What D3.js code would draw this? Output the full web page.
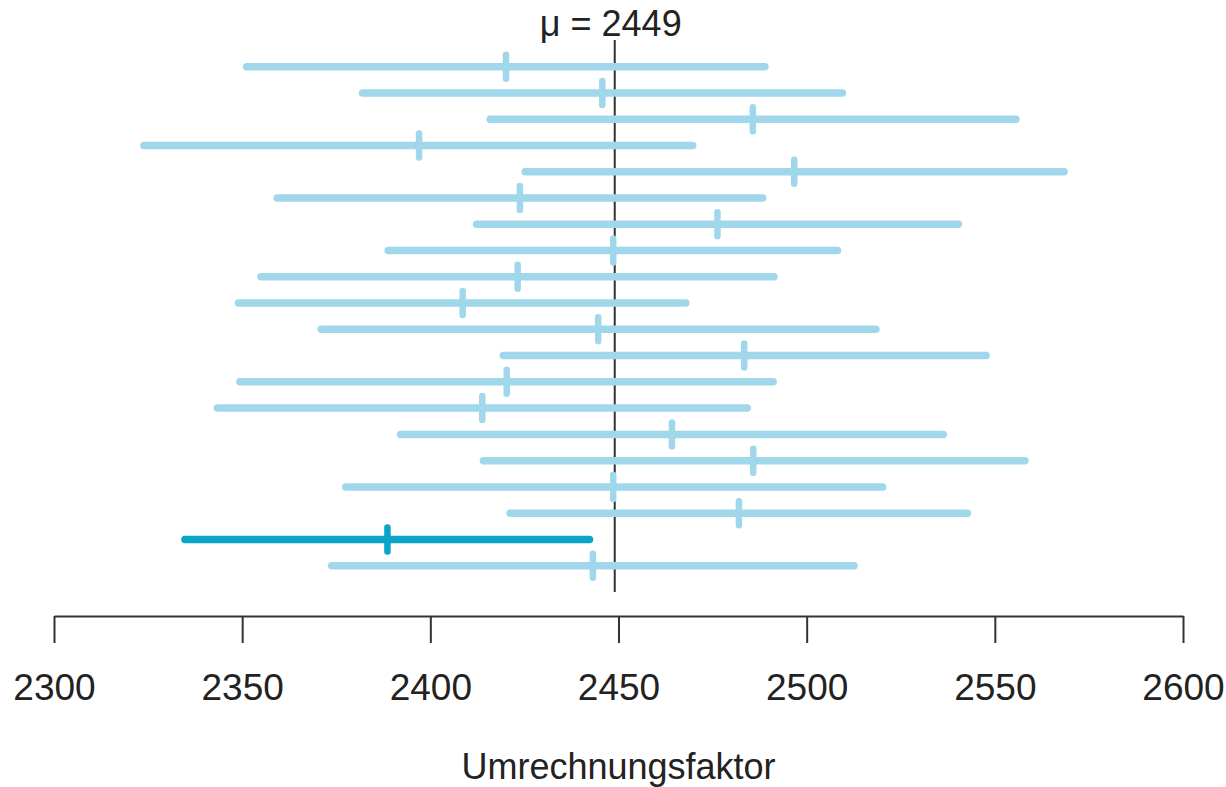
<!DOCTYPE html>
<html>
<head>
<meta charset="utf-8">
<script src="https://cdn.jsdelivr.net/npm/d3@7"></script>
<style>
  html, body { margin: 0; padding: 0; background: #fff; }
  svg { display: block; }
  text { font-family: "Liberation Sans", Arial, Helvetica, sans-serif; fill: #222; }
</style>
</head>
<body>
<svg id="chart" width="1226" height="787"></svg>
<script>
// 20 confidence intervals for the conversion factor, one per sample
const samples = d3.range(1, 21);
const lower = [2351.2, 2382.0, 2415.9, 2323.9, 2425.2, 2359.3, 2412.3, 2388.8, 2355.0, 2349.0,
               2371.0, 2419.4, 2349.4, 2343.4, 2392.1, 2414.1, 2377.5, 2421.2, 2334.8, 2373.8];
const means = [2420.1, 2445.7, 2485.7, 2397.0, 2496.7, 2423.8, 2476.3, 2448.6, 2423.2, 2408.6,
               2444.6, 2483.4, 2420.3, 2413.8, 2464.2, 2485.8, 2448.6, 2482.0, 2388.6, 2443.2];
const upper = [2488.9, 2509.5, 2555.6, 2469.7, 2568.4, 2488.3, 2540.3, 2508.2, 2491.3, 2467.9,
               2518.4, 2547.7, 2491.1, 2484.2, 2536.3, 2558.0, 2520.2, 2542.7, 2442.3, 2512.6];
// the one interval that misses the true value
const highlighted = [19];
const mu = 2449;
const tickValues = [2300, 2350, 2400, 2450, 2500, 2550, 2600];
const xLabel = "Umrechnungsfaktor";

const rows = samples.map((s, i) => ({
  sample: s, lo: lower[i], mean: means[i], hi: upper[i],
  hit: highlighted.includes(s)
}));

const svg = d3.select("#chart");
const x = d3.scaleLinear().domain([2300, 2600]).range([54, 1183]);
const y = d3.scalePoint().domain(samples).range([66.7, 565.7]);

const light = "#a0d7ea";
const dark = "#0aa4c9";

// reference line at the true mean
svg.append("line")
  .attr("x1", x(mu)).attr("x2", x(mu))
  .attr("y1", 40).attr("y2", 592)
  .attr("stroke", "#333").attr("stroke-width", 2);

svg.append("text")
  .attr("x", x(mu) - 4).attr("y", 36)
  .attr("text-anchor", "middle")
  .attr("font-size", 36)
  .text("\u03bc = " + mu);

// interval bars
const g = svg.append("g");
g.selectAll("line.ci")
  .data(rows)
  .join("line")
  .attr("class", "ci")
  .attr("x1", d => x(d.lo)).attr("x2", d => x(d.hi))
  .attr("y1", d => y(d.sample)).attr("y2", d => y(d.sample))
  .attr("stroke", d => d.hit ? dark : light)
  .attr("stroke-width", 7.5)
  .attr("stroke-linecap", "round");

// sample mean markers
g.selectAll("line.mean")
  .data(rows)
  .join("line")
  .attr("class", "mean")
  .attr("x1", d => x(d.mean)).attr("x2", d => x(d.mean))
  .attr("y1", d => y(d.sample) - 12).attr("y2", d => y(d.sample) + 12)
  .attr("stroke", d => d.hit ? dark : light)
  .attr("stroke-width", 6.5)
  .attr("stroke-linecap", "round");

// x axis
const axis = svg.append("g")
  .attr("transform", "translate(0,616)")
  .call(d3.axisBottom(x).tickValues(tickValues).tickFormat(d3.format("d"))
    .tickSize(27).tickPadding(31).tickSizeOuter(0));
axis.select(".domain").attr("stroke", "#333").attr("stroke-width", 2);
axis.selectAll(".tick line").attr("stroke", "#333").attr("stroke-width", 2);
axis.selectAll(".tick text")
  .attr("font-size", 37)
  .attr("font-family", "\"Liberation Sans\", Arial, sans-serif")
  .attr("fill", "#222");

svg.append("text")
  .attr("x", x(2450)).attr("y", 779)
  .attr("text-anchor", "middle")
  .attr("font-size", 36)
  .text(xLabel);
</script>
</body>
</html>
